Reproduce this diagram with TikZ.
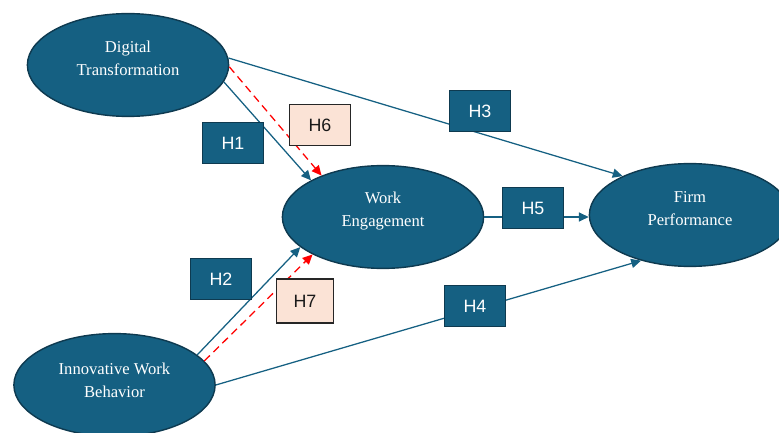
\documentclass[tikz,border=0pt]{standalone}
\usepackage{fontspec}
\setmainfont{Liberation Serif}
\newfontfamily\hypfont{Liberation Sans}
\usetikzlibrary{arrows.meta, shapes.geometric}
\definecolor{deepteal}{HTML}{156082}
\definecolor{edgeblue}{HTML}{0E3A50}
\definecolor{peach}{HTML}{FBE3D6}
\tikzset{%
    var/.style={ellipse, draw=edgeblue, fill=deepteal, line width = 1pt, inner sep=0pt, minimum width=5.03cm, minimum height=2.57cm},
    vtxt/.style={text=white, align=center, font=\fontsize{11.8}{16.3}\selectfont, yshift=0.16cm},
    hyp/.style={rectangle, draw=edgeblue, fill=deepteal, line width = 1pt, text=white, font=\hypfont\fontsize{12.7}{14}\selectfont, minimum width=1.52cm, minimum height=1.02cm},
    med/.style={rectangle, draw=black!85, fill=peach, line width = 1pt, text=black!90, font=\hypfont\fontsize{12.7}{14}\selectfont, minimum width=1.52cm, minimum height=1.02cm},
    lnk/.style={draw=deepteal, line width = 0.9pt, -{Triangle[length=7pt, width=6.5pt]}},
    mdl/.style={draw=red, line width = 0.9pt, dash pattern=on 5.5pt off 3.5pt, -{Triangle[length=7pt, width=6.5pt]}},
}
\begin{document}
\begin{tikzpicture}[x=0.025cm, y=-0.025cm]
    \clip (0,0) rectangle (779,433);
    \node [var, label={[vtxt]center:Digital\\Transformation}] (dt) at (128,65) {};
    \node [var, label={[vtxt]center:Work\\Engagement}] (we) at (383,217) {};
    \node [var, label={[vtxt]center:Firm\\Performance}] (fp) at (690,215) {};
    \node [var, label={[vtxt, yshift=-0.05cm]center:Innovative Work\\Behavior}] (iwb) at (114.5,385) {};
    \draw [lnk] (dt.-10) -- (we.153);
    \draw [mdl] (dt.-1) -- (we.146);
    \draw [lnk] (dt.4) -- (fp.150);
    \draw [lnk] (we.east) -- (we.east -| fp.west);
    \draw [lnk] (iwb.20) -- (we.200);
    \draw [mdl] (iwb.15) -- (we.208);
    \draw [lnk] (iwb.0) -- (fp.-137);
    \node [hyp] (h1) at (233,143) {H1};
    \node [hyp] (h2) at (221,279) {H2};
    \node [hyp] (h3) at (480,111) {H3};
    \node [hyp] (h4) at (475,306) {H4};
    \node [hyp] (h5) at (533,208) {H5};
    \node [med] (h6) at (320,125) {H6};
    \node [med, minimum width=1.42cm, minimum height=1.1cm] (h7) at (305,301) {H7};
\end{tikzpicture}
\end{document}
